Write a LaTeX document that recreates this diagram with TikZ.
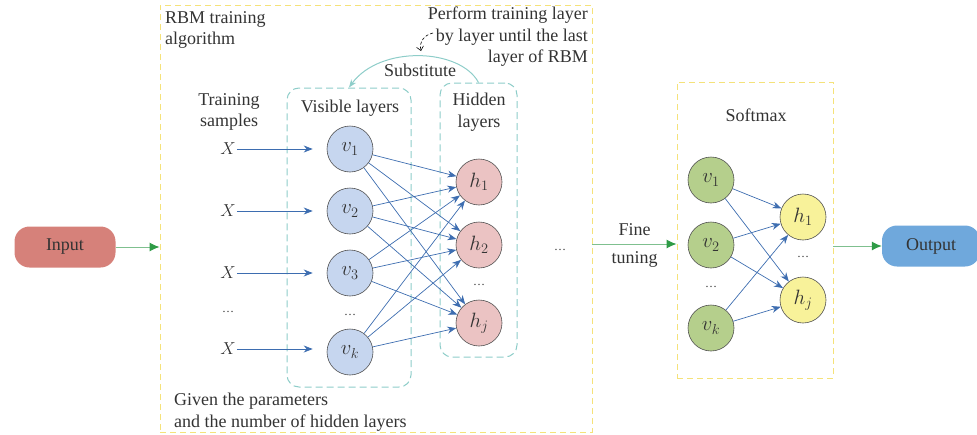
\documentclass[tikz,border=0pt]{standalone}
\usepackage{fontspec}
\setmainfont{Liberation Serif}
\usetikzlibrary{arrows.meta}
\definecolor{inputred}{HTML}{D6817A}
\definecolor{outputblue}{HTML}{6FA8DC}
\definecolor{vblue}{HTML}{C6D6EF}
\definecolor{hpink}{HTML}{EBC3C3}
\definecolor{sgreen}{HTML}{B5CF8C}
\definecolor{syellow}{HTML}{F8F29A}
\definecolor{eblue}{HTML}{3D6DB0}
\definecolor{tealc}{HTML}{8ECDC9}
\definecolor{ydash}{HTML}{F5E27A}
\definecolor{gline}{HTML}{7FC08F}
\definecolor{ghead}{HTML}{2E9B46}
\definecolor{txt}{HTML}{333333}
\definecolor{ring}{HTML}{505050}
\begin{document}
\begin{tikzpicture}[x=1pt,y=-1pt,
  font=\fontsize{18}{21.5}\selectfont, text=txt,
  neuron/.style={circle, draw=ring, line width=0.6pt, minimum size=46pt, inner sep=0pt, font=\fontsize{21}{21}\selectfont},
  vn/.style={neuron, fill=vblue},
  hn/.style={neuron, fill=hpink},
  gn/.style={neuron, fill=sgreen},
  yn/.style={neuron, fill=syellow},
  edge/.style={draw=eblue, line width=0.7pt, -{Stealth[length=9pt,width=7pt]}},
  garrow/.style={draw=gline, line width=1pt, -{Latex[length=10pt,width=9pt,color=ghead]}},
  ybox/.style={draw=ydash, dashed, line width=0.9pt, dash pattern=on 6pt off 4pt},
  tbox/.style={draw=tealc, line width=1pt, dash pattern=on 7pt off 4pt, rounded corners=12pt},
  dots/.style={font=\fontsize{12}{12}\selectfont, inner sep=0pt},
  term/.style={rounded corners=15pt, minimum height=41pt, inner sep=0pt}
]
\useasboundingbox (0,0) rectangle (977,434);

% big boxes
\node[ybox, minimum width=432pt, minimum height=427pt] (bigbox) at (376,218.5) {};
\node[ybox, minimum width=156pt, minimum height=296pt] (smbox) at (755,230) {};
\node[tbox, minimum width=124pt, minimum height=299pt] (visbox) at (349,237.5) {};
\node[tbox, minimum width=77pt, minimum height=274pt] (hidbox) at (478.5,220) {};

% terminals
\node[term, fill=inputred, minimum width=101pt] (input) at (65,247) {Input};
\node[term, fill=outputblue, minimum width=98pt] (output) at (931,246) {Output};

% texts
\node[anchor=west, align=left, inner sep=0pt] (rbm) at (165,30) {RBM training\\algorithm};
\node[anchor=east, align=right, inner sep=0pt] (perform) at (588,37) {Perform training layer\\by layer until the last\\layer of RBM};
\node[inner sep=0pt] (subst) at (420,70) {Substitute};
\node[inner sep=0pt] (vislab) at (350,108) {Visible layers};
\node[align=center, inner sep=0pt] (hidlab) at (479,112) {Hidden\\layers};
\node[align=center, inner sep=0pt] (trlab) at (229,112) {Training\\samples};
\node[anchor=west, align=left, inner sep=0pt] (given) at (174,412) {Given the parameters\\and the number of hidden layers};
\node[inner sep=0pt] (softlab) at (756,115) {Softmax};

% visible neurons
\node[vn] (v1) at (350,149) {$v_1$};
\node[vn] (v2) at (350,211) {$v_2$};
\node[vn] (v3) at (350,273) {$v_3$};
\node[dots] (vd) at (350,315) {\dots};
\node[vn] (vk) at (350,352) {$v_k$};

% hidden neurons
\node[hn] (h1) at (479,182) {$h_1$};
\node[hn] (h2) at (479,245) {$h_2$};
\node[dots] (hd) at (479,285) {\dots};
\node[hn] (hj) at (479,323) {$h_j$};

% X inputs
\node[inner sep=1pt] (x1) at (228,149) {$X$};
\node[inner sep=1pt] (x2) at (228,211) {$X$};
\node[inner sep=1pt] (x3) at (228,273) {$X$};
\node[dots] (xd) at (228,312) {\dots};
\node[inner sep=1pt] (xk) at (228,349) {$X$};
\foreach \i in {1,2,3}{\draw[edge, shorten >=14pt] (x\i) -- (v\i.west |- x\i);}
\draw[edge, shorten >=14pt] (xk) -- (vk.west |- xk);

\foreach \a in {v1,v2,v3,vk}{
  \foreach \b in {h1,h2,hj}{
    \draw[edge] (\a) -- (\b);
  }
}

\node[dots] (mid) at (560,250) {\dots};

% substitute arrow
\draw[draw=tealc, line width=1pt, -{Stealth[length=8pt,width=6pt]}] (hidbox.north) .. controls (460,48) and (380,45) .. (visbox.north);
\coordinate (pa) at (433,33);
\coordinate (pb) at (421,51);
\draw[black, line width=0.6pt, dash pattern=on 3pt off 2pt, -{Straight Barb[length=4pt,width=7pt]}] (pa) .. controls (424,35) and (419,42) .. (pb);

% softmax neurons
\node[gn] (s1) at (711,180) {$v_1$};
\node[gn] (s2) at (711,245) {$v_2$};
\node[dots] (sd) at (711,287) {\dots};
\node[gn] (sk) at (711,328) {$v_k$};
\node[yn] (o1) at (803,217) {$h_1$};
\node[dots] (od) at (803,257) {\dots};
\node[yn] (oj) at (803,300) {$h_j$};
\foreach \a in {s1,s2,sk}{
  \foreach \b in {o1,oj}{
    \draw[edge] (\a) -- (\b);
  }
}

% green flow arrows
\draw[garrow] (input.east) -- (input.east -| bigbox.west);
\coordinate (ft) at (592,244);
\draw[garrow] (ft -| bigbox.east) -- (ft -| smbox.west)
  node[midway, above=4pt] (fine) {Fine}
  node[midway, below=4pt] (tuning) {tuning};
\draw[garrow] (output.west -| smbox.east) -- (output.west);
\end{tikzpicture}
\end{document}
